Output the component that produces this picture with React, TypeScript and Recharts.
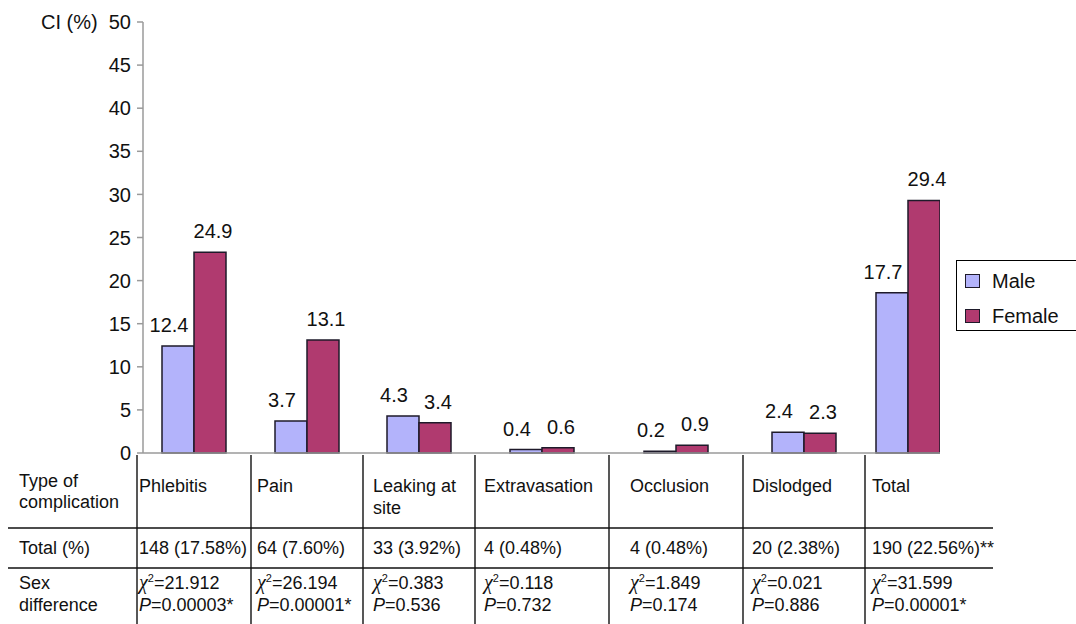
import React from 'react';
import { BarChart, Bar, XAxis, YAxis, Legend, LabelList } from 'recharts';

// Chart values
const categories = ['Phlebitis', 'Pain', 'Leaking at site', 'Extravasation', 'Occlusion', 'Dislodged', 'Total'];
// bar heights as drawn
const maleValues = [12.4, 3.7, 4.3, 0.4, 0.2, 2.4, 18.6];
const femaleValues = [23.3, 13.1, 3.5, 0.6, 0.9, 2.3, 29.3];
// value labels printed above the bars
const maleLabels = ['12.4', '3.7', '4.3', '0.4', '0.2', '2.4', '17.7'];
const femaleLabels = ['24.9', '13.1', '3.4', '0.6', '0.9', '2.3', '29.4'];
const yTicks = [0, 5, 10, 15, 20, 25, 30, 35, 40, 45, 50];

// Table rows
const totalCounts = ['148 (17.58%)', '64 (7.60%)', '33 (3.92%)', '4 (0.48%)', '4 (0.48%)', '20 (2.38%)', '190 (22.56%)**'];
const chiSquares = ['21.912', '26.194', '0.383', '0.118', '1.849', '0.021', '31.599'];
const pValues = ['0.00003*', '0.00001*', '0.536', '0.732', '0.174', '0.886', '0.00001*'];

const FONT = '"Liberation Sans", Arial, Helvetica, sans-serif';
const MALE = '#b3b3fb';
const FEMALE = '#b03a6f';
const OUTLINE = '#1e1a2a';
const SERIES_ORDER = ['male', 'female'];

// layout: table column edges (the last one only closes the Total column for bar placement)
const COL_EDGES = [137, 251, 363, 475, 609, 743, 865, 951];
const TEXT_PAD = [2, 6, 10, 9, 21, 9, 7];
const PLOT_LEFT = 143;
const PLOT_RIGHT = 940;

const data = categories.map((name, i) => ({
  name,
  pos: (COL_EDGES[i] + COL_EDGES[i + 1]) / 2,
  male: maleValues[i],
  female: femaleValues[i],
  maleLabel: maleLabels[i],
  femaleLabel: femaleLabels[i],
}));

const wrapName = (name: string) => {
  if (name.length > 12 && name.includes(' ')) {
    const k = name.lastIndexOf(' ');
    return [name.slice(0, k), name.slice(k + 1)];
  }
  return [name];
};

const makeLabel = (dx: number) => (props: any) => {
  const vb = props.viewBox || props;
  const x = Number(vb.x ?? props.x);
  const y = Number(vb.y ?? props.y);
  const w = Number(vb.width ?? props.width);
  return (
    <text x={x + w / 2 + dx} y={y - 14} textAnchor="middle" fontSize={20} fontFamily={FONT} fill="#111">
      {props.value}
    </text>
  );
};

const renderLegend = (props: any) => {
  const payload = [...(props.payload || [])].sort(
    (a: any, b: any) => SERIES_ORDER.indexOf(a.dataKey) - SERIES_ORDER.indexOf(b.dataKey)
  );
  return (
    <div style={{ width: 140, height: 71, border: '1px solid #000', boxSizing: 'border-box', background: '#fff', position: 'relative', fontFamily: FONT }}>
      {payload.map((p: any, i: number) => (
        <div key={i} style={{ position: 'absolute', left: 8, top: 9 + i * 35, display: 'flex', alignItems: 'center', height: 22 }}>
          <span style={{ display: 'inline-block', width: 15, height: 14, background: p.color, border: `1px solid ${OUTLINE}`, boxSizing: 'border-box' }} />
          <span style={{ marginLeft: 12, fontSize: 20, color: '#111' }}>{p.value}</span>
        </div>
      ))}
    </div>
  );
};

const Chi = ({ x, y, v }: { x: number; y: number; v: string }) => (
  <text x={x} y={y} fontSize={18} fontFamily={FONT} fill="#111">
    <tspan fontStyle="italic" fontFamily='"Liberation Serif", "DejaVu Serif", serif' fontSize={20}>χ</tspan>
    <tspan fontSize={11} dy={-7}>2</tspan>
    <tspan dy={7}>={v}</tspan>
  </text>
);

const Table = () => {
  const row1 = [492, 514];
  const row2 = 554;
  const row3 = [589, 611];
  const txt = { fontSize: 18, fontFamily: FONT, fill: '#111' } as const;
  return (
    <svg width={1076} height={624} style={{ position: 'absolute', left: 0, top: 0, pointerEvents: 'none' }}>
      <text x={41} y={29} {...txt} fontSize={20}>CI (%)</text>
      {COL_EDGES.slice(0, 7).map((x, i) => (
        <line key={`v${i}`} x1={x} x2={x} y1={455} y2={624} stroke="#111" strokeWidth={1.4} />
      ))}
      <line x1={8} x2={993} y1={528} y2={528} stroke="#111" strokeWidth={1.4} />
      <line x1={8} x2={993} y1={568} y2={568} stroke="#111" strokeWidth={1.4} />
      <text x={19} y={487} {...txt}>Type of</text>
      <text x={19} y={508} {...txt}>complication</text>
      <text x={19} y={row2} {...txt}>Total (%)</text>
      <text x={19} y={row3[0]} {...txt}>Sex</text>
      <text x={19} y={row3[1]} {...txt}>difference</text>
      {categories.map((name, i) => {
        const x = COL_EDGES[i] + TEXT_PAD[i];
        return (
          <g key={name}>
            {wrapName(name).map((ln, j) => (
              <text key={j} x={x} y={row1[j]} {...txt}>{ln}</text>
            ))}
            <text x={x} y={row2} {...txt}>{totalCounts[i]}</text>
            <Chi x={x} y={row3[0]} v={chiSquares[i]} />
            <text x={x} y={row3[1]} {...txt}>
              <tspan fontStyle="italic">P</tspan>={pValues[i]}
            </text>
          </g>
        );
      })}
    </svg>
  );
};

const App = () => (
  <div style={{ position: 'absolute', left: 0, top: 0, width: 1076, height: 624, background: '#fff', overflow: 'hidden', fontFamily: FONT }}>
    <BarChart
      width={1076}
      height={470}
      data={data}
      margin={{ top: 22, right: 1076 - PLOT_RIGHT, bottom: 16, left: 0 }}
      barGap={0}
    >
      <XAxis
        type="number"
        dataKey="pos"
        domain={[PLOT_LEFT, PLOT_RIGHT]}
        allowDataOverflow
        tick={false}
        tickLine={false}
        height={1}
        axisLine={{ stroke: '#9a9a9a', strokeWidth: 1.5 }}
      />
      <YAxis
        width={PLOT_LEFT}
        domain={[0, 50]}
        ticks={yTicks}
        interval={0}
        tickSize={6}
        tickMargin={6}
        tick={{ fontSize: 20, fill: '#111', fontFamily: FONT }}
        tickLine={{ stroke: '#9a9a9a', strokeWidth: 1.5 }}
        axisLine={{ stroke: '#9a9a9a', strokeWidth: 1.5 }}
      />
      <Legend
        layout="vertical"
        align="center"
        verticalAlign="middle"
        wrapperStyle={{ position: 'absolute', left: 956, top: 260, width: 140 }}
        content={renderLegend}
      />
      <Bar dataKey="male" name="Male" fill={MALE} stroke={OUTLINE} strokeWidth={1.5} barSize={32} isAnimationActive={false}>
        <LabelList dataKey="maleLabel" content={makeLabel(-9)} />
      </Bar>
      <Bar dataKey="female" name="Female" fill={FEMALE} stroke={OUTLINE} strokeWidth={1.5} barSize={32} isAnimationActive={false}>
        <LabelList dataKey="femaleLabel" content={makeLabel(3)} />
      </Bar>
    </BarChart>
    <Table />
  </div>
);

export default App;
